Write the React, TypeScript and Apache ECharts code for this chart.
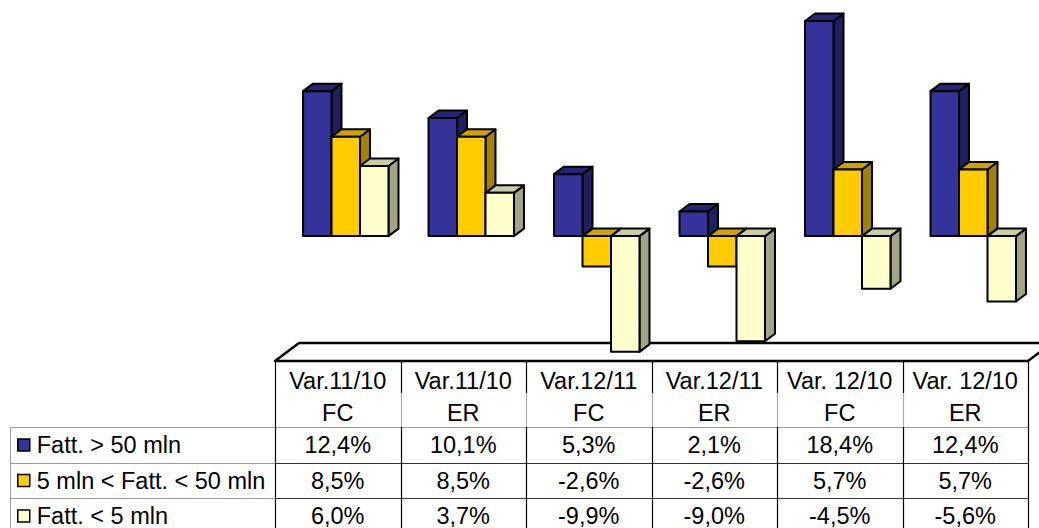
import React, { useEffect, useRef } from 'react';
import * as echarts from 'echarts';

const categories = [
  'Var.11/10\nFC',
  'Var.11/10\nER',
  'Var.12/11\nFC',
  'Var.12/11\nER',
  'Var. 12/10\nFC',
  'Var. 12/10\nER',
];
const seriesNames = ['Fatt. > 50 mln', '5 mln < Fatt. < 50 mln', 'Fatt. < 5 mln'];
const bigValues = [12.4, 10.1, 5.3, 2.1, 18.4, 12.4];
const midValues = [8.5, 8.5, -2.6, -2.6, 5.7, 5.7];
const smallValues = [6.0, 3.7, -9.9, -9.0, -4.5, -5.6];
const allValues = [bigValues, midValues, smallValues];

const frontColors = ['#333399', '#FFCC00', '#FFFFCC'];
const topColors = ['#262673', '#CCA300', '#CCCCA3'];
const sideColors = ['#202060', '#A38200', '#A3A388'];

const FONT = '"Liberation Sans", Arial, Helvetica, sans-serif';
const FONT_SIZE = 23.5;

// layout
const TABLE_LEFT = 275;
const TABLE_RIGHT = 1028;
const COL_W = (TABLE_RIGHT - TABLE_LEFT) / 6;
const HEADER_TOP = 361;
const HEADER_BOTTOM = 427;
const ROW_H = 35.5;
const LEGEND_LEFT = 10;
const DEPTH_X = 10;
const DEPTH_Y = -7.5;
const SHIFT = 8;

function fmt(v: number) {
  return v.toFixed(1).replace('.', ',') + '%';
}

export default function App() {
  const ref = useRef<HTMLDivElement>(null);
  useEffect(() => {
    if (!ref.current) return;
    const chart = echarts.init(ref.current, null, { renderer: 'svg' });

    const series = allValues.map((vals, s) => ({
      type: 'custom',
      name: seriesNames[s],
      itemStyle: { color: frontColors[s] },
      encode: { x: 0, y: 1 },
      z: 5,
      data: vals.map((v, i) => [i, v]),
      renderItem: (params: any, api: any) => {
        const idx = api.value(0);
        const val = api.value(1);
        const p0 = api.coord([idx, 0]);
        const p1 = api.coord([idx, val]);
        const band = api.size([1, 0])[0];
        const bw = band * 0.227;
        const x0 = p0[0] - 1.5 * bw + s * bw + SHIFT;
        const top = Math.min(p0[1], p1[1]);
        const bottom = Math.max(p0[1], p1[1]);
        const stroke = { stroke: '#000', lineWidth: 2, lineJoin: 'round' };
        return {
          type: 'group',
          children: [
            {
              type: 'polygon',
              shape: {
                points: [
                  [x0 + bw, top],
                  [x0 + bw + DEPTH_X, top + DEPTH_Y],
                  [x0 + bw + DEPTH_X, bottom + DEPTH_Y],
                  [x0 + bw, bottom],
                ],
              },
              style: { fill: sideColors[s], ...stroke },
            },
            {
              type: 'polygon',
              shape: {
                points: [
                  [x0, top],
                  [x0 + bw, top],
                  [x0 + bw + DEPTH_X, top + DEPTH_Y],
                  [x0 + DEPTH_X, top + DEPTH_Y],
                ],
              },
              style: { fill: topColors[s], ...stroke },
            },
            {
              type: 'rect',
              shape: { x: x0, y: top, width: bw, height: bottom - top },
              style: { fill: frontColors[s], ...stroke },
            },
          ],
        };
      },
    }));

    const graphics: any[] = [];
    // floor
    graphics.push({
      type: 'polygon',
      z: 0,
      shape: {
        points: [
          [TABLE_LEFT, HEADER_TOP],
          [TABLE_LEFT + 24, HEADER_TOP - 18],
          [TABLE_RIGHT + 24, HEADER_TOP - 18],
          [TABLE_RIGHT, HEADER_TOP],
        ],
      },
      style: { fill: '#fff', stroke: '#000', lineWidth: 2.5, lineJoin: 'round' },
    });
    // table top line
    graphics.push({
      type: 'line',
      z: 1,
      shape: { x1: TABLE_LEFT, y1: HEADER_TOP, x2: TABLE_RIGHT, y2: HEADER_TOP },
      style: { stroke: '#000', lineWidth: 2 },
    });
    // header bottom line (gray) across legend + data
    graphics.push({
      type: 'line',
      z: 1,
      shape: { x1: LEGEND_LEFT, y1: HEADER_BOTTOM + 0.5, x2: TABLE_RIGHT, y2: HEADER_BOTTOM + 0.5 },
      style: { stroke: '#999', lineWidth: 1 },
    });
    // row lines
    for (let r = 1; r < 3; r++) {
      const y = Math.round(HEADER_BOTTOM + r * ROW_H) + 0.5;
      graphics.push({
        type: 'line',
        z: 1,
        shape: { x1: LEGEND_LEFT, y1: y, x2: TABLE_LEFT, y2: y },
        style: { stroke: '#999', lineWidth: 1 },
      });
      graphics.push({
        type: 'line',
        z: 1,
        shape: { x1: TABLE_LEFT, y1: y, x2: TABLE_RIGHT, y2: y },
        style: { stroke: '#333', lineWidth: 1 },
      });
    }
    // legend column left border
    graphics.push({
      type: 'line',
      z: 1,
      shape: { x1: LEGEND_LEFT + 0.5, y1: HEADER_BOTTOM, x2: LEGEND_LEFT + 0.5, y2: 528 },
      style: { stroke: '#999', lineWidth: 1 },
    });
    // vertical column lines
    for (let c = 0; c <= 6; c++) {
      const x = Math.round(TABLE_LEFT + c * COL_W) + 0.5;
      const inner = c > 0 && c < 6;
      graphics.push({
        type: 'line',
        z: 1,
        shape: { x1: x, y1: HEADER_TOP, x2: x, y2: inner ? 393 : 528 },
        style: { stroke: '#000', lineWidth: 1.2 },
      });
      if (inner) {
        graphics.push({
          type: 'line',
          z: 1,
          shape: { x1: x, y1: 393, x2: x, y2: HEADER_BOTTOM },
          style: { stroke: '#aaa', lineWidth: 1.2 },
        });
        graphics.push({
          type: 'line',
          z: 1,
          shape: { x1: x, y1: HEADER_BOTTOM, x2: x, y2: 528 },
          style: { stroke: '#000', lineWidth: 1.2 },
        });
      }
    }
    // data cells
    allValues.forEach((vals, r) => {
      vals.forEach((v, c) => {
        graphics.push({
          type: 'text',
          z: 2,
          style: {
            text: fmt(v),
            x: TABLE_LEFT + (c + 0.5) * COL_W,
            y: HEADER_BOTTOM + (r + 0.5) * ROW_H + 0.5,
            textAlign: 'center',
            textVerticalAlign: 'middle',
            font: `${FONT_SIZE}px ${FONT}`,
            fill: '#000',
          },
        });
      });
    });

    chart.setOption({
      animation: false,
      backgroundColor: '#fff',
      grid: { left: TABLE_LEFT, width: TABLE_RIGHT - TABLE_LEFT, top: 14, height: 339 },
      xAxis: {
        type: 'category',
        data: categories,
        axisLine: { show: false, onZero: false },
        axisTick: { show: false },
        splitLine: { show: false },
        axisLabel: {
          margin: 12,
          interval: 0,
          fontSize: FONT_SIZE,
          fontFamily: FONT,
          color: '#000',
          lineHeight: 32,
        },
      },
      yAxis: {
        type: 'value',
        min: -10,
        max: 19,
        show: false,
        splitLine: { show: false },
      },
      legend: {
        orient: 'vertical',
        left: 17,
        top: 433,
        padding: 0,
        height: 120,
        itemWidth: 12,
        itemHeight: 12,
        itemGap: 11.5,
        selectedMode: false,
        textStyle: {
          fontSize: FONT_SIZE,
          fontFamily: FONT,
          color: '#000',
          lineHeight: 24,
          padding: [0, 0, 0, 2],
        },
        data: seriesNames.map((n, i) => ({
          name: n,
          icon: 'rect',
          itemStyle: { color: frontColors[i], borderColor: '#000', borderWidth: 1.5 },
        })),
      },
      graphic: graphics,
      series,
    });
    return () => chart.dispose();
  }, []);
  return (
    <div
      ref={ref}
      style={{ position: 'fixed', left: 0, top: 0, width: 1039, height: 528 }}
    />
  );
}
